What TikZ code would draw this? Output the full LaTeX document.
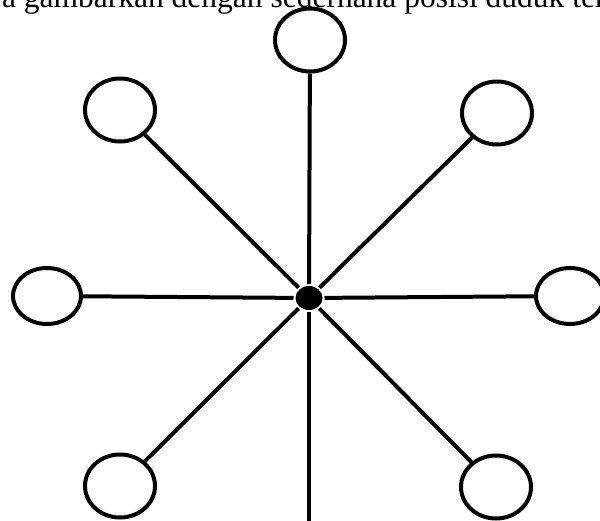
\documentclass[tikz,border=0pt]{standalone}
\usepackage{fontspec}
\setmainfont{Liberation Serif}
\usetikzlibrary{shapes.geometric}

\begin{document}
\begin{tikzpicture}[x=1pt, y=-1pt, line width=4pt,
    seat/.style={draw, ellipse, inner sep=0pt, minimum width=70pt, minimum height=63pt},
    sideseat/.style={seat, minimum width=68pt, minimum height=56pt},
    hub/.style={fill, ellipse, inner sep=0pt, minimum width=27pt, minimum height=24pt}]
    \path[use as bounding box, clip] (0,0) rectangle (600,520);
    \node[anchor=base west, inner sep=0pt, font=\fontsize{31.5}{38}\selectfont] (caption) at (0,7)
        {a gambarkan dengan sederhana posisi duduk ter};
    \node[hub] (pusat) at (309,298) {};
    \node[seat] (atas) at (310,40) {};
    \node[seat] (kiriatas) at (120,110) {};
    \node[seat] (kananatas) at (497,113) {};
    \node[sideseat] (kiri) at (47,296) {};
    \node[sideseat] (kanan) at (570,296) {};
    \node[seat] (kiribawah) at (120,486) {};
    \node[seat] (kananbawah) at (496,487) {};
    \coordinate (bawah) at (309,525);
    \draw (pusat) -- (atas);
    \draw (pusat) -- (kiriatas);
    \draw (pusat) -- (kananatas);
    \draw (pusat) -- (kiri);
    \draw (pusat) -- (kanan);
    \draw (pusat) -- (kiribawah);
    \draw (pusat) -- (kananbawah);
    \draw (pusat) -- (bawah);
\end{tikzpicture}
\end{document}
